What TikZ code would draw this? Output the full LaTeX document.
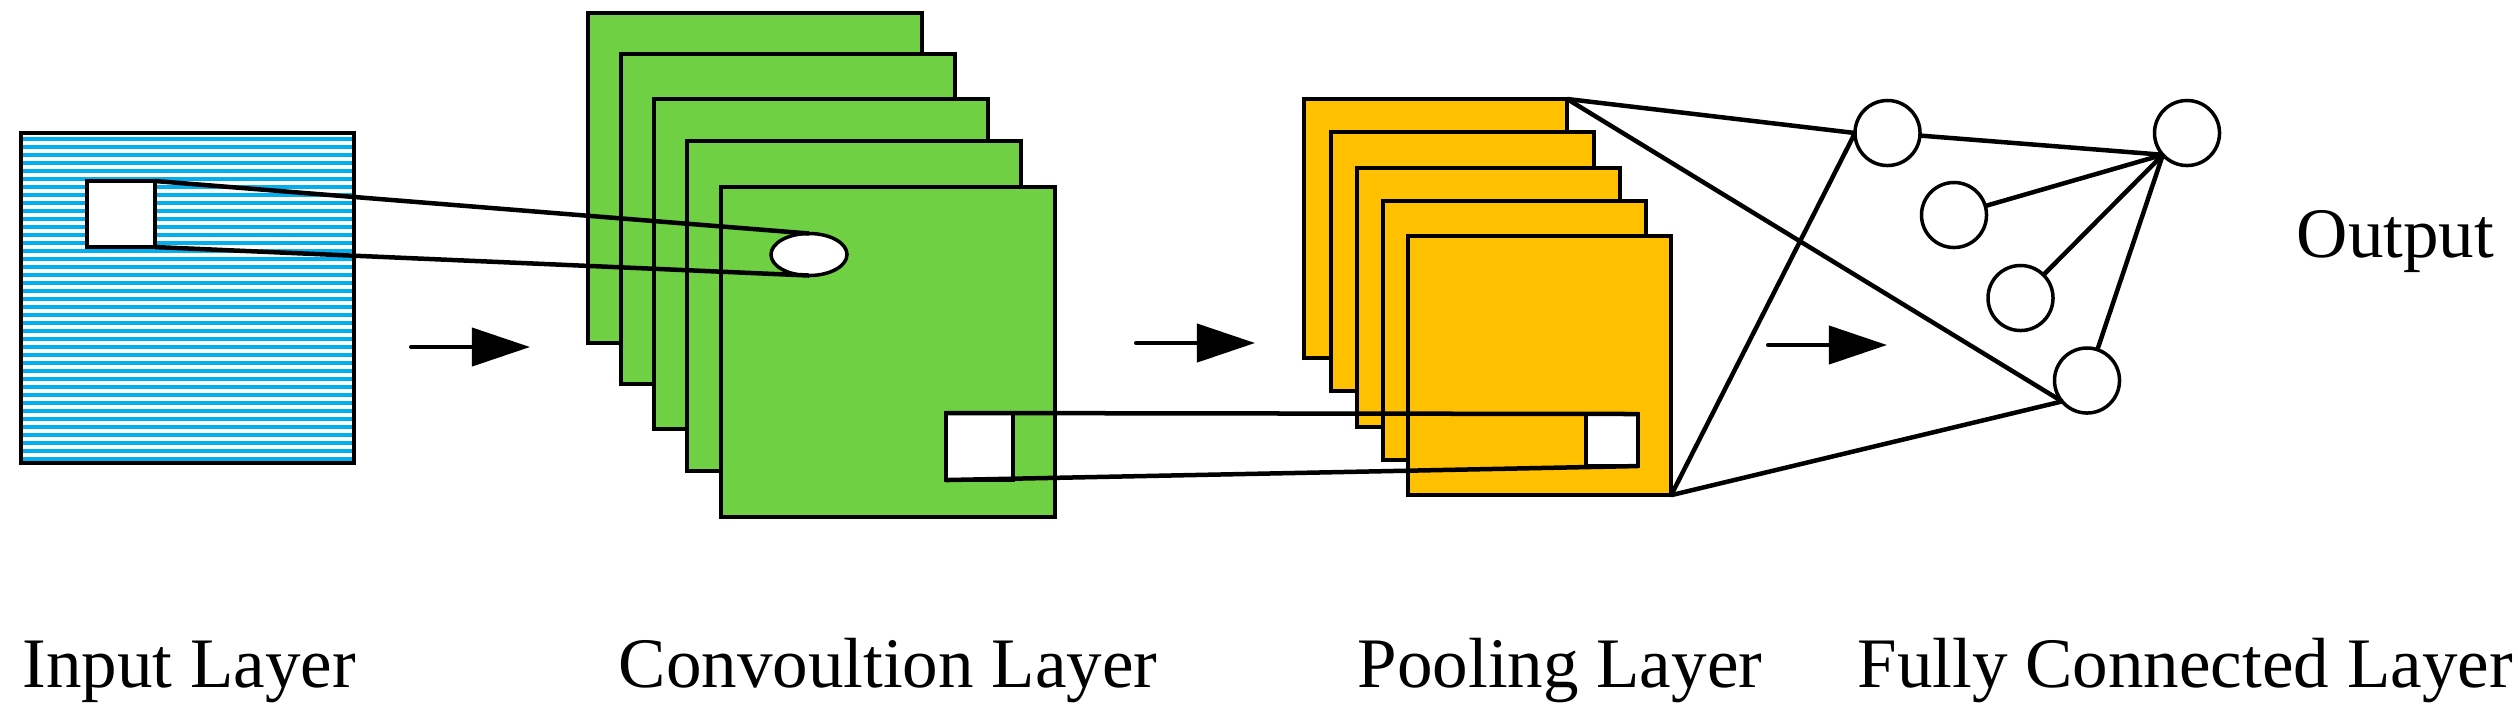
\documentclass[tikz,border=0pt]{standalone}
\usepackage{fontspec}
\setmainfont{Liberation Serif}
\usetikzlibrary{shapes.geometric,arrows.meta}
\definecolor{stripeblue}{RGB}{0,176,240}
\definecolor{convgreen}{RGB}{112,208,68}
\definecolor{poolgold}{RGB}{255,192,0}
\tikzset{
  box/.style={draw=black, line width=0.04cm, rectangle, inner sep=0pt, outer sep=0pt, anchor=north west},
  convbox/.style={box, fill=convgreen, minimum width=3.34cm, minimum height=3.30cm},
  poolbox/.style={box, fill=poolgold, minimum width=2.63cm, minimum height=2.59cm},
  hole/.style={box, fill=white},
  neuron/.style={draw=black, circle, line width=0.035cm, fill=white, minimum size=0.65cm, inner sep=0pt, outer sep=0pt},
  link/.style={line width=0.045cm},
  flow/.style={line width=0.04cm, line cap=round, -{Triangle[length=0.58cm,width=0.38cm]}},
  lbl/.style={anchor=base west, inner sep=0pt, font=\fontsize{20.2pt}{24pt}\selectfont}
}
\begin{document}
\begin{tikzpicture}[x=0.01cm, y=-0.01cm]
\useasboundingbox (0,0) rectangle (2518,726);

% ---- input layer ----
\foreach \i in {0,...,40} {
  \fill[stripeblue] (23,{137+8*\i}) rectangle (352,{141+8*\i});
}
\node[box, minimum width=3.33cm, minimum height=3.30cm] (inp) at (21,133) {};
\node[hole, minimum width=0.68cm, minimum height=0.66cm] (insq) at (87,181) {};

% ---- convolution layer ----
\node[convbox] (c1) at (588,13) {};
\node[convbox] (c2) at (621,54) {};
\node[convbox] (c3) at (654,99) {};
\node[convbox] (c4) at (687,141) {};
\node[convbox] (c5) at (721,187) {};
\node[draw=black, ellipse, fill=white, line width=0.035cm, minimum width=0.76cm, minimum height=0.42cm, inner sep=0pt, outer sep=0pt] (ell) at (809,254.5) {};
\node[hole, minimum width=0.67cm, minimum height=0.67cm] (csq) at (946,413) {};
\draw[link] (insq.north east) -- (ell.north);
\draw[link] (insq.south east) -- (ell.south);

% ---- pooling layer ----
\node[poolbox] (p1) at (1304,99) {};
\node[poolbox] (p2) at (1331,132) {};
\node[poolbox] (p3) at (1357,168) {};
\node[poolbox] (p4) at (1383,201) {};
\node[poolbox] (p5) at (1408,236) {};
\node[hole, minimum width=0.52cm, minimum height=0.52cm] (psq) at (1586,414) {};
\draw[link] (csq.north west) -- (psq.north east);
\draw[link] (csq.south west) -- (psq.south east);

% ---- fully connected layer ----
\node[neuron] (nA) at (1887.5,133) {};
\node[neuron] (nB) at (1954,215) {};
\node[neuron] (nC) at (2020.5,298) {};
\node[neuron] (nD) at (2087,380.5) {};
\node[neuron] (nE) at (2187,133) {};
\draw[link] (p1.north east) -- (nA.west);
\draw[link] (p5.south east) -- (nA.west);
\draw[link] (p1.north east) -- (nD.220);
\draw[link] (p5.south east) -- (nD.220);
\draw[link] (nA) -- (nE.222);
\draw[link] (nB) -- (nE.222);
\draw[link] (nC) -- (nE.222);
\draw[link] (nD) -- (nE.222);

% ---- flow arrows ----
\coordinate (a1s) at (411,347);
\coordinate (a1e) at (530,347);
\coordinate (a2s) at (1136,343);
\coordinate (a2e) at (1255,343);
\coordinate (a3s) at (1768,345);
\coordinate (a3e) at (1887,345);
\draw[flow] (a1s) -- (a1e);
\draw[flow] (a2s) -- (a2e);
\draw[flow] (a3s) -- (a3e);

% ---- labels ----
\node[lbl] (tIn) at (22,687) {Input Layer};
\node[lbl] (tConv) at (618,687) {Convoultion Layer};
\node[lbl] (tPool) at (1357,687) {Pooling Layer};
\node[lbl] (tFC) at (1857,687) {Fully Connected Layer};
\node[lbl] (tOut) at (2296,257) {Output};
\end{tikzpicture}
\end{document}
